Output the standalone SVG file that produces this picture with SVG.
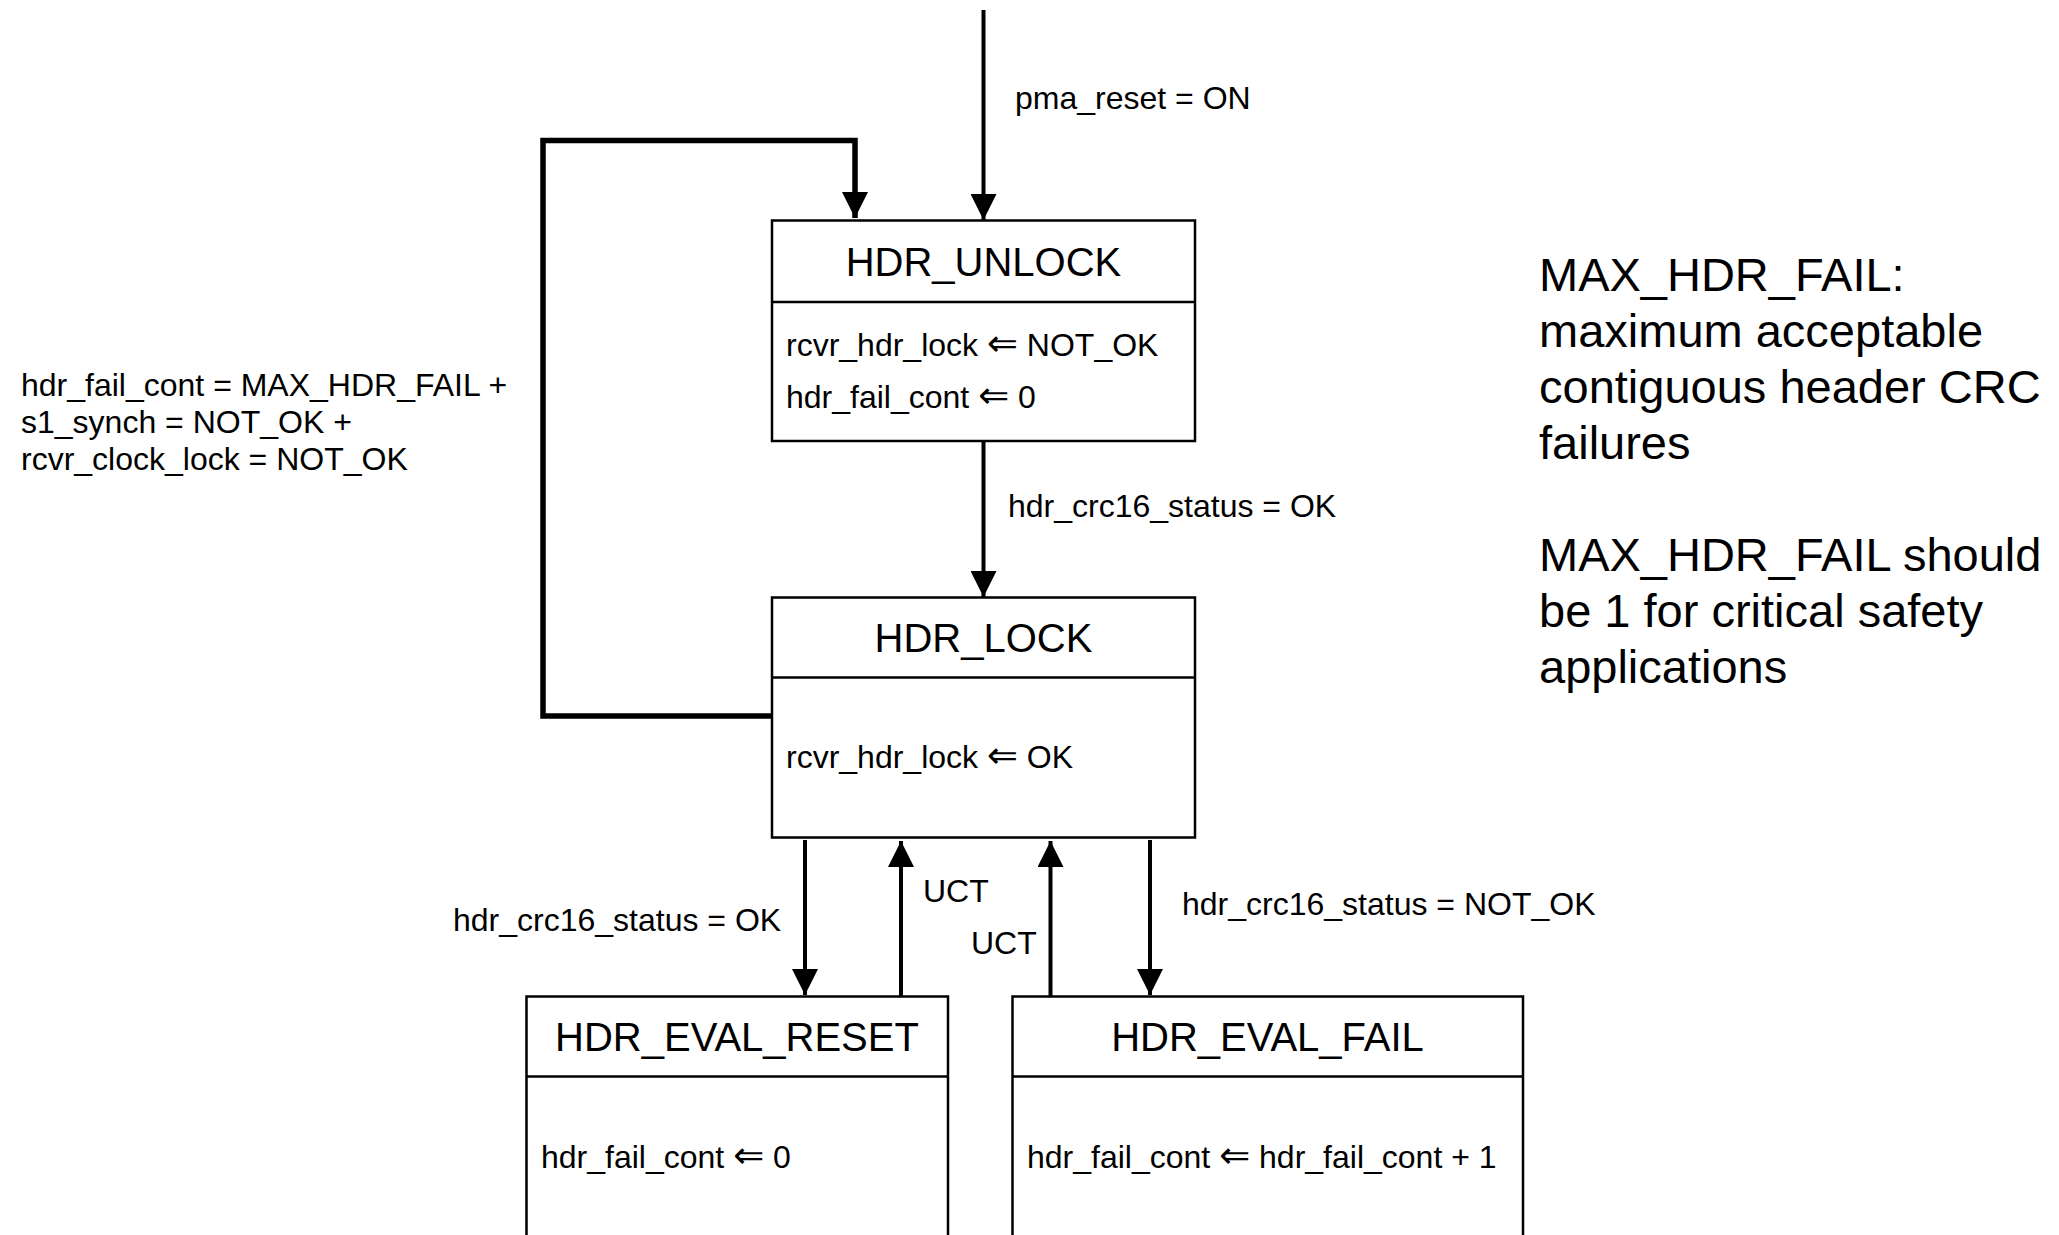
<svg xmlns="http://www.w3.org/2000/svg" width="2059" height="1235" viewBox="0 0 2059 1235">
<defs>
<style>
.box{fill:#fff;stroke:#000;stroke-width:2.5}
.div{stroke:#000;stroke-width:2.5}
.t{font-family:"Liberation Sans",Arial,sans-serif;fill:#000}
.ar{font-family:"DejaVu Sans",sans-serif;font-size:37px}
.title{font-size:40px;text-anchor:middle}
.lbl{font-size:32px}
.note{font-size:47px}
.edge{fill:none;stroke:#000;stroke-width:4}
.loop{fill:none;stroke:#000;stroke-width:5.5}
</style>
<marker id="ah" markerUnits="userSpaceOnUse" markerWidth="26" markerHeight="26" viewBox="0 0 26 26" refX="26" refY="13" orient="auto">
<path d="M0,0 L26,13 L0,26 Z" fill="#000"/>
</marker>
</defs>
<rect width="2059" height="1235" fill="#fff"/>
<g id="connectors">
<path class="edge" d="M983.5,10 V220" marker-end="url(#ah)"/>
<path class="loop" d="M772,716 H543 V140.5 H855 V218" marker-end="url(#ah)"/>
<path class="edge" d="M983.5,441 V597" marker-end="url(#ah)"/>
<path class="edge" d="M805,840 V995" marker-end="url(#ah)"/>
<path class="edge" d="M901,996 V841" marker-end="url(#ah)"/>
<path class="edge" d="M1050.5,996 V841" marker-end="url(#ah)"/>
<path class="edge" d="M1150,840 V995" marker-end="url(#ah)"/>
</g>
<g id="edge-labels">
<text class="t lbl" x="1015" y="108.5">pma_reset = ON</text>
<text class="t lbl" x="1008" y="517">hdr_crc16_status = OK</text>
<text class="t lbl" x="453" y="930.5">hdr_crc16_status = OK</text>
<text class="t lbl" x="923" y="901.5">UCT</text>
<text class="t lbl" x="971" y="954">UCT</text>
<text class="t lbl" x="1182" y="915">hdr_crc16_status = NOT_OK</text>
<text class="t lbl" x="21" y="396">hdr_fail_cont = MAX_HDR_FAIL +</text>
<text class="t lbl" x="21" y="433">s1_synch = NOT_OK +</text>
<text class="t lbl" x="21" y="470">rcvr_clock_lock = NOT_OK</text>
</g>
<g id="HDR_UNLOCK">
<rect class="box" x="772" y="220.5" width="423" height="220.5"/>
<line class="div" x1="772" y1="302" x2="1195" y2="302"/>
<text class="t title" x="983.5" y="276">HDR_UNLOCK</text>
<text class="t lbl" x="786" y="355.5">rcvr_hdr_lock <tspan class="ar">⇐</tspan> NOT_OK</text>
<text class="t lbl" x="786" y="408">hdr_fail_cont <tspan class="ar">⇐</tspan> 0</text>
</g>
<g id="HDR_LOCK">
<rect class="box" x="772" y="597.5" width="423" height="240"/>
<line class="div" x1="772" y1="677.5" x2="1195" y2="677.5"/>
<text class="t title" x="983.5" y="652">HDR_LOCK</text>
<text class="t lbl" x="786" y="768">rcvr_hdr_lock <tspan class="ar">⇐</tspan> OK</text>
</g>
<g id="HDR_EVAL_RESET">
<rect class="box" x="526.5" y="996.5" width="421.5" height="260"/>
<line class="div" x1="526.5" y1="1076.5" x2="948" y2="1076.5"/>
<text class="t title" x="737" y="1051">HDR_EVAL_RESET</text>
<text class="t lbl" x="541" y="1168">hdr_fail_cont <tspan class="ar">⇐</tspan> 0</text>
</g>
<g id="HDR_EVAL_FAIL">
<rect class="box" x="1012.5" y="996.5" width="510.5" height="260"/>
<line class="div" x1="1012.5" y1="1076.5" x2="1523" y2="1076.5"/>
<text class="t title" x="1267.5" y="1051">HDR_EVAL_FAIL</text>
<text class="t lbl" x="1027" y="1168">hdr_fail_cont <tspan class="ar">⇐</tspan> hdr_fail_cont + 1</text>
</g>
<g id="note">
<text class="t note" x="1539" y="291">MAX_HDR_FAIL:</text>
<text class="t note" x="1539" y="347">maximum acceptable</text>
<text class="t note" x="1539" y="403">contiguous header CRC</text>
<text class="t note" x="1539" y="459">failures</text>
<text class="t note" x="1539" y="571">MAX_HDR_FAIL should</text>
<text class="t note" x="1539" y="627">be 1 for critical safety</text>
<text class="t note" x="1539" y="683">applications</text>
</g>
</svg>
